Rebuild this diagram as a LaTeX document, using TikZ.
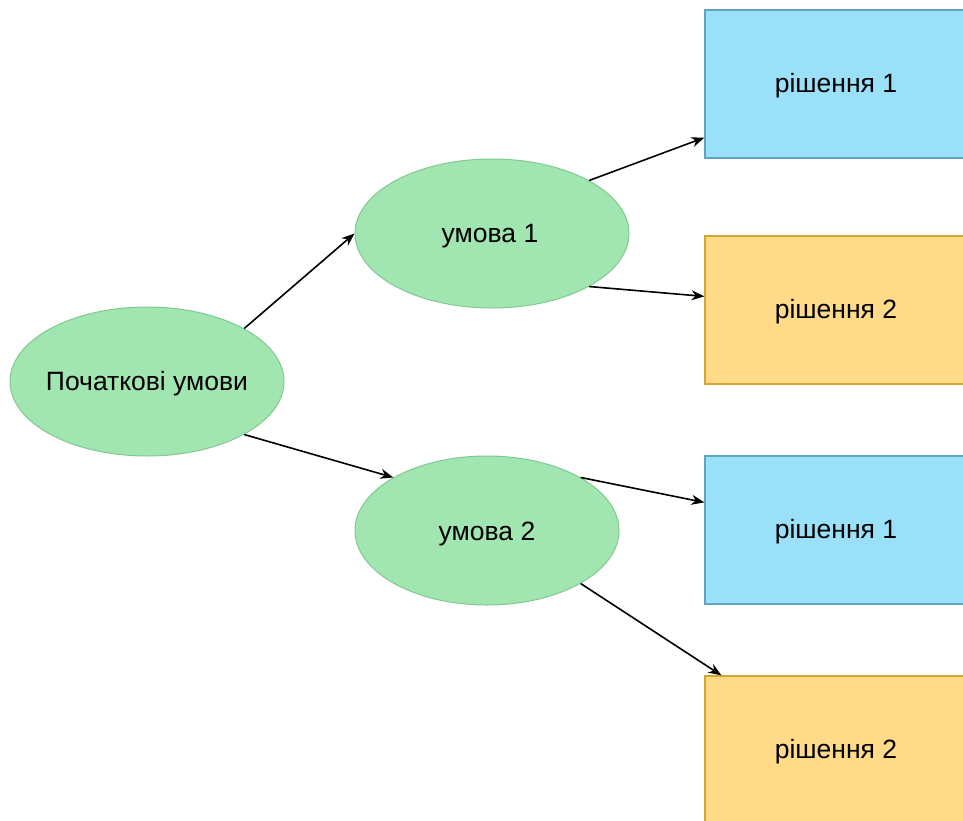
\documentclass[tikz,border=0pt]{standalone}
\usepackage{fontspec}
\setmainfont{Liberation Sans}
\usetikzlibrary{shapes.geometric,calc,arrows.meta}
\definecolor{gfill}{RGB}{161,229,176}
\definecolor{gdraw}{RGB}{130,200,145}
\definecolor{bfill}{RGB}{153,224,248}
\definecolor{bdraw}{RGB}{95,165,195}
\definecolor{ofill}{RGB}{255,218,137}
\definecolor{odraw}{RGB}{215,165,50}
\begin{document}
\begin{tikzpicture}[x=1pt,y=-1pt,
  txt/.style={font=\fontsize{26.5}{30}\selectfont},
  cond/.style={ellipse,fill=gfill,draw=gdraw,line width=1pt,inner sep=0pt},
  sol/.style={rectangle,line width=1.2pt,inner sep=0pt,minimum width=290pt,minimum height=148pt},
  bsol/.style={sol,fill=bfill,draw=bdraw},
  osol/.style={sol,fill=ofill,draw=odraw},
  conn/.style={-{Stealth[length=13pt,width=10pt]},line width=1.6pt,black}]
\useasboundingbox (0,0) rectangle (963,821);
\node[cond,minimum width=274pt,minimum height=149pt] (p) at (147,381.5) {};
\node[txt] (tp) at ($(p.center)+(0,2)$) {Початкові умови};
\node[cond,minimum width=274pt,minimum height=149pt] (c1) at (492,233.5) {};
\node[txt] (tc1) at ($(c1.center)+(-2,3)$) {умова 1};
\node[cond,minimum width=264pt,minimum height=149pt] (c2) at (487,530.5) {};
\node[txt] (tc2) at ($(c2.center)+(0,3)$) {умова 2};
\node[bsol] (s11) at (850,84) {};
\node[txt] (t11) at (836,86) {рішення 1};
\node[osol] (s12) at (850,310) {};
\node[txt] (t12) at (836,312) {рішення 2};
\node[bsol] (s21) at (850,530) {};
\node[txt] (t21) at (836,532) {рішення 1};
\node[osol] (s22) at (850,750) {};
\node[txt] (t22) at (836,752) {рішення 2};
\draw[conn] (p.north east) -- (c1.west);
\draw[conn] (p.south east) -- (c2.north west);
\draw[conn] (c1.north east) -- ($(s11.south west)+(0,-21)$);
\draw[conn] (c1.south east) -- ($(s12.north west)+(0,61)$);
\draw[conn] (c2.north east) -- ($(s21.north west)+(0,47)$);
\draw[conn] (c2.south east) -- ($(s22.north west)+(17,0)$);
\end{tikzpicture}
\end{document}
